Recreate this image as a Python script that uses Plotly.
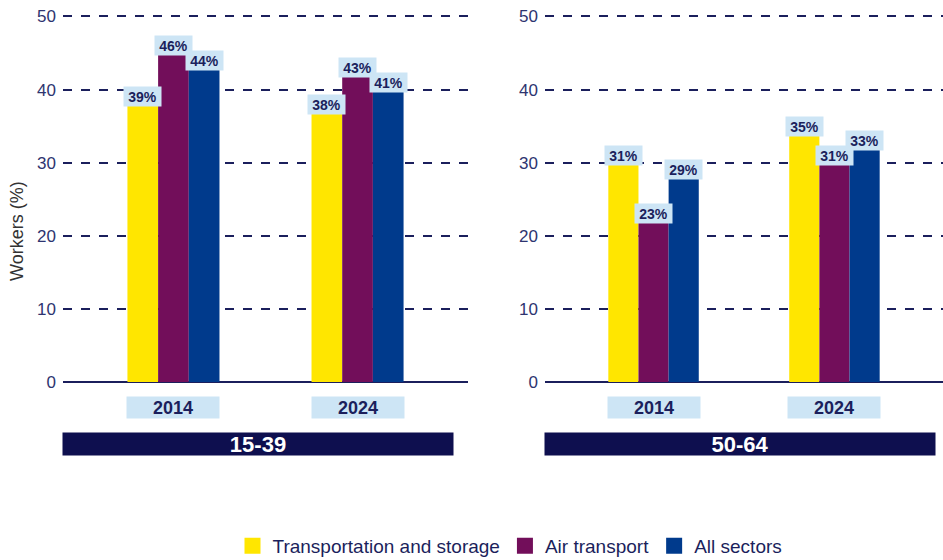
import plotly.graph_objects as go
from plotly.subplots import make_subplots

years = ["2014", "2024"]
groups = ["15-39", "50-64"]
series = ["Transportation and storage", "Air transport", "All sectors"]
colors = ["#FFE600", "#720E5A", "#003A8C"]

# valores por serie: [2014, 2024]
young = {
    "Transportation and storage": [39, 38],
    "Air transport": [46, 43],
    "All sectors": [44, 41],
}
old = {
    "Transportation and storage": [31, 35],
    "Air transport": [23, 31],
    "All sectors": [29, 33],
}

navy = "#1B1F5C"
light = "#CDE5F5"
font = "Liberation Sans"

# area del grafico en pixeles
W, H = 943, 560
L, R, T, B = 63, 0, 15, 178
pw, ph = W - L - R, H - T - B


def px_x(p):
    return (p - L) / pw


def px_y(p):
    return (H - B - p) / ph


fig = make_subplots(rows=1, cols=2)

bargap = 0.5
bar_w = (1 - bargap) / len(series)

annotations = []
banner_x = [(63 + 453) / 2, (545 + 935) / 2]
for col, (data, grp) in enumerate([(young, groups[0]), (old, groups[1])], start=1):
    xref = "x" if col == 1 else "x2"
    yref = "y" if col == 1 else "y2"
    for i, name in enumerate(series):
        fig.add_trace(go.Bar(
            x=years, y=data[name], name=name,
            marker_color=colors[i], marker_line_width=0,
            showlegend=False,
        ), row=1, col=col)
        for j, v in enumerate(data[name]):
            annotations.append(dict(
                x=j + (i - 1) * bar_w, y=v, xref=xref, yref=yref,
                text=f"<b>{v}%</b>", showarrow=False,
                bgcolor=light, width=35, height=17,
                font=dict(family=font, size=14, color=navy),
                xanchor="center", yanchor="middle",
            ))
    # etiquetas de año
    for j, yr in enumerate(years):
        annotations.append(dict(
            x=j, y=px_y(407), xref=xref, yref="paper",
            text=f"<b>{yr}</b>", showarrow=False,
            bgcolor=light, width=90, height=19,
            font=dict(family=font, size=18, color=navy),
            xanchor="center", yanchor="middle",
        ))
    # banda del grupo de edad
    annotations.append(dict(
        x=px_x(banner_x[col - 1]), y=px_y(444), xref="paper", yref="paper",
        text=f"<b>{grp}</b>", showarrow=False,
        bgcolor="#0E0F4F", width=388, height=20,
        font=dict(family=font, size=22, color="white"),
        xanchor="center", yanchor="middle",
    ))

annotations.append(dict(
    x=px_x(17), y=px_y(231), xref="paper", yref="paper",
    text="Workers (%)", showarrow=False, textangle=-90,
    font=dict(family=font, size=18, color="#333333"),
    xanchor="center", yanchor="middle",
))

# entradas de leyenda con cuadrados grandes
for i, name in enumerate(series):
    fig.add_trace(go.Scatter(
        x=[None], y=[None], mode="markers", name=name,
        marker=dict(symbol="square", size=26, color=colors[i]),
        showlegend=True,
    ), row=1, col=1)

axis_y = dict(
    range=[0, 50.2], tickvals=[0, 10, 20, 30, 40, 50],
    showgrid=True, gridcolor=navy, griddash="dash", gridwidth=1.6,
    zeroline=True, zerolinecolor=navy, zerolinewidth=2,
    tickfont=dict(family=font, size=17, color="#2E3470"),
    ticks="", showline=False, fixedrange=True, automargin=False,
    ticklabelstandoff=6,
)
axis_x = dict(range=[-0.6, 1.6], showticklabels=False, ticks="", showgrid=False,
              showline=False, automargin=False, fixedrange=True)

fig.update_layout(
    width=W, height=H,
    margin=dict(l=L, r=R, t=T, b=B, autoexpand=False),
    paper_bgcolor="white", plot_bgcolor="white",
    barmode="group", bargap=bargap, bargroupgap=0,
    xaxis=dict(domain=[0, px_x(468)], **axis_x),
    xaxis2=dict(domain=[px_x(545), 1.0], **axis_x),
    yaxis=dict(domain=[0, 1], **axis_y),
    yaxis2=dict(domain=[0, 1], **axis_y),
    legend=dict(orientation="h", x=px_x(510), xanchor="center",
                y=px_y(546), yanchor="middle",
                font=dict(family=font, size=19, color=navy),
                itemsizing="trace", traceorder="normal"),
    annotations=annotations,
    font=dict(family=font),
)

# quitar el margen del body para que la figura empiece en (0, 0)
fig.write_html("out.html", config={"displayModeBar": False},
               post_script="document.body.style.margin='0';")
